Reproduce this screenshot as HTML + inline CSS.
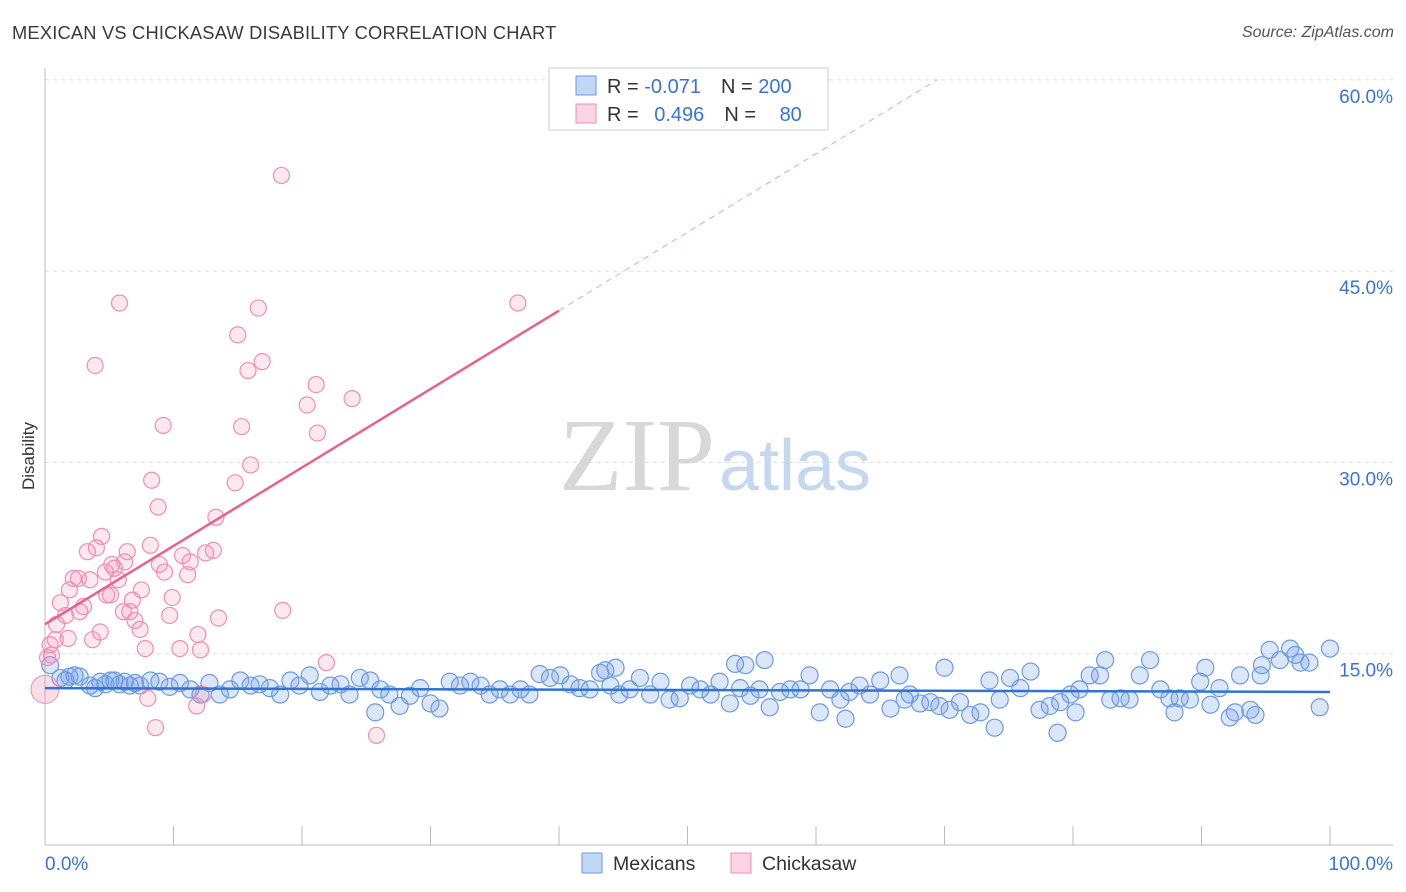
<!DOCTYPE html>
<html><head><meta charset="utf-8"><style>
body{margin:0;background:#fff;font-family:"Liberation Sans",sans-serif;}
#wrap{position:relative;width:1406px;height:892px;overflow:hidden;}
.title{position:absolute;left:12px;top:22px;font-size:18.3px;color:#3a3a3a;letter-spacing:0.2px}
.source{position:absolute;right:12px;top:24px;font-size:16px;color:#555;font-style:italic}
</style></head><body>
<div id="wrap">
<div class="title">MEXICAN VS CHICKASAW DISABILITY CORRELATION CHART</div>
<div class="source">Source: ZipAtlas.com</div>
<svg id="chart" width="1406" height="892" style="position:absolute;left:0;top:0">
<g id="grid"></g>
<text x="715" y="490" text-anchor="middle" font-family="Liberation Serif" font-size="104" fill="#d8d8d8">ZIP<tspan font-family="Liberation Sans" font-size="72" fill="#c5d8ef" dx="4">atlas</tspan></text>
<g id="axes"></g>
<g id="pts"></g>
<g id="trend"></g>
<g>
<rect x="549" y="68" width="279" height="62" fill="#fff" stroke="#ccc"/>
<rect x="576" y="76" width="20" height="19" fill="rgba(120,165,235,0.45)" stroke="#6b9be0"/>
<rect x="576" y="104" width="20" height="19" fill="rgba(245,150,185,0.4)" stroke="#ee8fb0"/>
<text x="607" y="93" font-size="20" fill="#333">R = <tspan fill="#3a74d0">-0.071</tspan><tspan dx="20">N = </tspan><tspan fill="#3a74d0">200</tspan></text>
<text x="607" y="121" font-size="20" fill="#333">R = <tspan fill="#3a74d0" dx="10">0.496</tspan><tspan dx="20">N = </tspan><tspan fill="#3a74d0" dx="18">80</tspan></text>
</g>
<g>
<rect x="582" y="853" width="20" height="20" fill="rgba(120,165,235,0.45)" stroke="#6b9be0"/>
<text x="613" y="870" font-size="19.5" fill="#333">Mexicans</text>
<rect x="731" y="853" width="20" height="20" fill="rgba(245,150,185,0.4)" stroke="#ee8fb0"/>
<text x="762" y="870" font-size="19.5" fill="#333">Chickasaw</text>
</g>
<text x="34" y="456" transform="rotate(-90 34 456)" text-anchor="middle" font-size="17" fill="#333">Disability</text>
</svg>
</div>
<script>
const yTicks=[15,30,45,60];
const yTickLabels=["15.0%","30.0%","45.0%","60.0%"];
const xTickLabels=["0.0%","100.0%"];
const pinkX=[0.5,0.4,0.8,0.9,1.2,1.6,1.8,1.9,2.2,2.6,2.7,3.0,3.3,3.5,3.7,4.0,4.3,4.4,4.7,4.8,5.1,5.2,5.4,5.7,5.8,3.9,6.1,6.2,6.4,6.6,6.8,7.0,7.4,7.5,7.8,8.0,8.2,8.3,8.6,8.8,8.9,9.2,9.3,9.7,9.9,10.5,10.7,11.1,11.3,11.8,11.9,12.1,12.3,12.5,13.1,13.3,13.5,14.8,15.0,15.3,15.8,16.0,16.6,16.9,18.4,18.5,20.4,21.1,21.2,21.9,23.9,25.8,36.8,0.2];
const pinkY=[14.9,15.7,16.1,17.3,19.0,18.0,16.2,20.0,20.9,20.9,18.3,18.7,23.0,20.8,16.1,23.3,16.7,24.2,21.4,19.6,19.6,22.0,21.7,20.8,42.5,37.6,18.3,22.2,23.0,18.3,19.2,17.6,16.9,20.0,15.4,11.5,23.5,28.6,9.2,26.5,22.0,32.9,21.4,18.0,19.4,15.4,22.7,21.2,22.2,10.9,16.5,15.3,11.8,22.9,23.1,25.7,17.8,28.4,40.0,32.8,37.2,29.8,42.1,37.9,52.5,18.4,34.5,36.1,32.3,14.3,35.0,8.6,42.5,14.7];
const blueX=[0.4,1.2,1.9,2.7,3.5,4.3,5.1,5.8,6.6,7.4,8.2,8.9,9.7,10.5,11.3,12.1,12.8,13.6,14.4,15.2,16.0,16.7,17.5,18.3,19.1,19.8,20.6,21.4,22.2,23.0,23.7,24.5,25.3,26.1,26.8,27.6,28.4,29.2,30.0,30.7,31.5,32.3,33.1,33.9,34.6,35.4,36.2,37.0,37.7,38.5,39.3,40.1,40.9,41.6,42.4,43.2,44.0,44.7,45.5,46.3,47.1,47.9,48.6,49.4,50.2,51.0,51.8,52.5,53.3,54.1,54.9,55.6,56.4,57.2,58.0,58.8,59.5,60.3,61.1,61.9,62.6,63.4,64.2,65.0,65.8,66.5,67.3,68.1,68.9,69.6,70.4,71.2,72.0,72.8,73.5,74.3,75.1,75.9,76.7,77.4,78.2,79.0,79.8,80.5,81.3,82.1,82.9,83.7,84.4,85.2,86.0,86.8,87.5,88.3,89.1,89.9,90.7,91.4,92.2,93.0,93.8,94.6,95.3,96.1,96.9,97.7,98.4,99.2,100.0,
53.7,54.5,56.0,25.7,62.3,73.9,78.8,70.0,82.5,90.3,94.7,97.3,92.6,94.2,87.9,80.2,66.9,44.4,43.6,1.6,2.3,3.9,4.7,5.4,6.2,7.0];
const blueY=[14.1,13.1,13.2,13.2,12.5,12.8,12.9,12.6,12.5,12.5,12.9,12.8,12.4,12.7,12.2,11.8,12.7,11.8,12.2,12.9,12.5,12.6,12.3,11.8,12.9,12.5,13.3,12.0,12.5,12.6,11.8,13.1,12.9,12.2,11.8,10.9,11.7,12.3,11.1,10.7,12.8,12.5,12.8,12.5,11.8,12.2,11.8,12.2,11.8,13.4,13.1,13.3,12.6,12.3,12.2,13.5,12.5,11.8,12.2,13.1,11.8,12.8,11.4,11.5,12.5,12.2,11.8,12.8,11.1,12.3,11.7,12.2,10.8,12.0,12.2,12.2,13.3,10.4,12.2,11.4,12.0,12.5,11.8,12.9,10.7,13.3,11.8,11.1,11.2,10.9,10.6,11.2,10.2,10.4,12.9,11.4,13.1,12.3,13.6,10.6,10.9,11.2,11.8,12.2,13.3,13.3,11.4,11.5,11.4,13.3,14.5,12.2,11.5,11.5,11.4,12.8,11.0,12.3,10.0,13.3,10.6,13.3,15.3,14.5,15.4,14.3,14.3,10.8,15.4,
14.2,14.1,14.5,10.4,9.9,9.2,8.8,13.9,14.5,13.9,14.1,14.9,10.4,10.2,10.4,10.4,11.4,13.9,13.7,12.9,13.3,12.3,12.6,12.9,12.8,12.7];
const blueTrend=[12.3,12.0];
const pinkTrend=[17.3,41.9];

const X0=45,X1=1330,Y0=845,PX=191.3/15;
const sx=v=>X0+(X1-X0)*v/100;
const sy=v=>Y0-v*PX;
const NS="http://www.w3.org/2000/svg";
function mk(tag,attrs,parent){const e=document.createElementNS(NS,tag);for(const k in attrs)e.setAttribute(k,attrs[k]);parent.appendChild(e);return e;}
const grid=document.getElementById('grid'),axes=document.getElementById('axes'),pts=document.getElementById('pts'),trend=document.getElementById('trend');
yTicks.forEach((t,i)=>{
 const l=mk('line',{x1:45,x2:1393,y1:sy(t),y2:sy(t),stroke:'#ddd','stroke-dasharray':'4,4'},grid);
 
 
 const tx=mk('text',{x:1393,y:sy(t)+23,'text-anchor':'end','font-size':19,fill:'#3a74d0'},axes);
 tx.textContent=yTickLabels[i];
 
 
});
const ya=mk('line',{x1:45,x2:45,y1:68,y2:845,stroke:'#bbb'},axes);


const xa=mk('line',{x1:45,x2:1393,y1:845,y2:845,stroke:'#bbb'},axes);


for(let i=0;i<=10;i++){
 const t=mk('line',{x1:sx(i*10),x2:sx(i*10),y1:826,y2:845,stroke:'#bbb'},axes);
 
 
}
const xl0=mk('text',{x:45,y:870,'font-size':19,fill:'#3a74d0'},axes);xl0.textContent=xTickLabels[0];


const xl1=mk('text',{x:1393,y:870,'text-anchor':'end','font-size':19,fill:'#3a74d0'},axes);xl1.textContent=xTickLabels[1];


blueX.forEach((x,i)=>{
 const c=mk('circle',{cx:sx(x),cy:sy(blueY[i]),r:8.5,fill:'rgba(110,155,230,0.25)',stroke:'#6b9be0','stroke-width':1.2},pts);
 
 
});
pinkX.forEach((x,i)=>{
 const c=mk('circle',{cx:sx(x),cy:sy(pinkY[i]),r:8,fill:'rgba(245,140,180,0.2)',stroke:'#ee8fb0','stroke-width':1.2},pts);
 
 
});
const big=mk('circle',{cx:sx(0),cy:sy(12.2),r:14,fill:'rgba(245,140,180,0.3)',stroke:'#ee8fb0'},pts);


const bt=mk('line',{x1:sx(0),y1:sy(blueTrend[0]),x2:sx(100),y2:sy(blueTrend[1]),stroke:'#2f74d0','stroke-width':2.5},trend);


const slope=(pinkTrend[1]-pinkTrend[0])/40;
const pt=mk('line',{x1:sx(0),y1:sy(pinkTrend[0]),x2:sx(40),y2:sy(pinkTrend[1]),stroke:'#e8608e','stroke-width':2.5},trend);


const xe=(60-pinkTrend[0])/slope;
const pd=mk('line',{x1:sx(40),y1:sy(pinkTrend[1]),x2:sx(xe),y2:sy(60),stroke:'#f0a0bc','stroke-width':1,'stroke-dasharray':'6,5'},trend);


</script>
</body></html>
